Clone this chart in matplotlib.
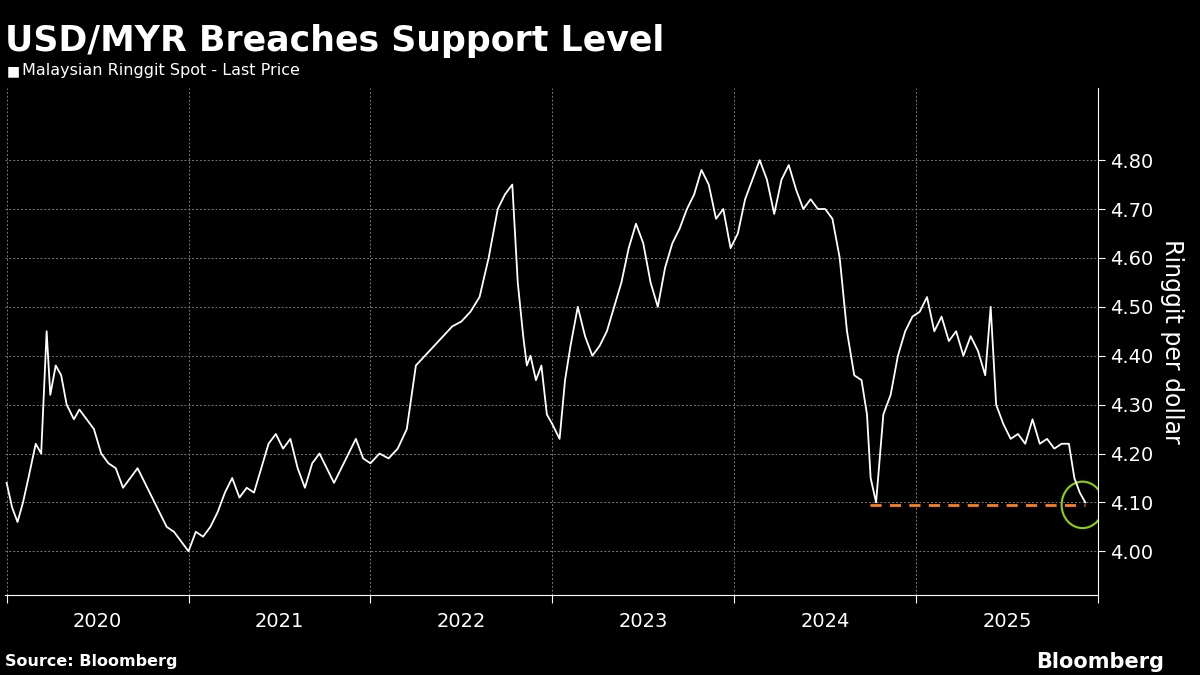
import matplotlib
matplotlib.use("Agg")
import matplotlib.pyplot as plt
import matplotlib.patches as mpatches

# decimal-year positions and USD/MYR values
years = [2020.00,2020.03,2020.06,2020.09,2020.12,2020.16,2020.19,2020.22,2020.24,2020.27,2020.30,2020.33,2020.37,2020.40,2020.44,2020.48,2020.52,2020.56,2020.60,2020.64,2020.68,2020.72,2020.76,2020.80,2020.84,2020.88,2020.92,2020.96,2021.00,
2021.04,2021.08,2021.12,2021.16,2021.20,2021.24,2021.28,2021.32,2021.36,2021.40,2021.44,2021.48,2021.52,2021.56,2021.60,2021.64,2021.68,2021.72,2021.76,2021.80,2021.84,2021.88,2021.92,2021.96,
2022.00,2022.05,2022.10,2022.15,2022.20,2022.25,2022.30,2022.35,2022.40,2022.45,2022.50,2022.55,2022.60,2022.65,2022.70,2022.74,2022.78,2022.81,2022.84,2022.86,2022.88,2022.91,2022.94,2022.97,
2023.00,2023.04,2023.07,2023.10,2023.14,2023.18,2023.22,2023.26,2023.30,2023.34,2023.38,2023.42,2023.46,2023.50,2023.54,2023.58,2023.62,2023.66,2023.70,2023.74,2023.78,2023.82,2023.86,2023.90,2023.94,2023.98,
2024.02,2024.06,2024.10,2024.14,2024.18,2024.22,2024.26,2024.30,2024.34,2024.38,2024.42,2024.46,2024.50,2024.54,2024.58,2024.62,2024.66,2024.70,2024.73,2024.75,2024.78,2024.82,2024.86,2024.90,2024.94,2024.98,
2025.02,2025.06,2025.10,2025.14,2025.18,2025.22,2025.26,2025.30,2025.34,2025.38,2025.41,2025.44,2025.48,2025.52,2025.56,2025.60,2025.64,2025.68,2025.72,2025.76,2025.80,2025.84,2025.87,2025.90,2025.93]
rates = [4.14,4.09,4.06,4.10,4.15,4.22,4.20,4.45,4.32,4.38,4.36,4.30,4.27,4.29,4.27,4.25,4.20,4.18,4.17,4.13,4.15,4.17,4.14,4.11,4.08,4.05,4.04,4.02,4.00,
4.04,4.03,4.05,4.08,4.12,4.15,4.11,4.13,4.12,4.17,4.22,4.24,4.21,4.23,4.17,4.13,4.18,4.20,4.17,4.14,4.17,4.20,4.23,4.19,
4.18,4.20,4.19,4.21,4.25,4.38,4.40,4.42,4.44,4.46,4.47,4.49,4.52,4.60,4.70,4.73,4.75,4.55,4.44,4.38,4.40,4.35,4.38,4.28,
4.26,4.23,4.35,4.42,4.50,4.44,4.40,4.42,4.45,4.50,4.55,4.62,4.67,4.63,4.55,4.50,4.58,4.63,4.66,4.70,4.73,4.78,4.75,4.68,4.70,4.62,
4.65,4.72,4.76,4.80,4.76,4.69,4.76,4.79,4.74,4.70,4.72,4.70,4.70,4.68,4.60,4.45,4.36,4.35,4.28,4.15,4.10,4.28,4.32,4.40,4.45,4.48,
4.49,4.52,4.45,4.48,4.43,4.45,4.40,4.44,4.41,4.36,4.50,4.30,4.26,4.23,4.24,4.22,4.27,4.22,4.23,4.21,4.22,4.22,4.15,4.12,4.10]
support = 4.095
support_start = 2024.745

fig = plt.figure(figsize=(12, 6.75), dpi=100, facecolor="black")
ax = fig.add_axes([0.004, 0.118, 0.911, 0.752], facecolor="black")
ax.plot(years, rates, color="white", lw=1.3)
ax.plot([support_start, years[-1]], [support, support], color="#ff7f1f", lw=2, ls=(0, (4, 3)))
ax.set_xlim(2019.99, 2026.0)
ax.set_ylim(3.91, 4.948)
yt = [4.0, 4.1, 4.2, 4.3, 4.4, 4.5, 4.6, 4.7, 4.8]
ax.set_yticks(yt)
ax.set_yticklabels([f"{v:.2f}" for v in yt], color="white", fontsize=14)
ax.yaxis.tick_right()
ax.set_xticks([2020, 2021, 2022, 2023, 2024, 2025, 2026])
ax.set_xticklabels([])
ax.set_xticks([2020.5 + i for i in range(6)], minor=True)
ax.set_xticklabels([str(2020 + i) for i in range(6)], minor=True, color="white", fontsize=14)
ax.tick_params(axis="x", which="minor", length=0, pad=12)
ax.tick_params(axis="x", which="major", length=6, color="white")
ax.tick_params(axis="y", length=5, color="white", pad=4)
ax.grid(True, which="major", color="#777777", ls=(0, (2, 2)), lw=0.7)
for s in ["top", "left"]:
    ax.spines[s].set_visible(False)
ax.spines["bottom"].set_color("white")
ax.spines["right"].set_color("white")
ax.yaxis.set_label_position("right")
ax.set_ylabel("Ringgit per dollar", color="white", fontsize=17, rotation=270, labelpad=22)
circ = mpatches.Ellipse((2025.915, 4.095), 0.23, 0.095, fill=False, ec="#8fd400", lw=1.5)
ax.add_patch(circ)

fig.text(0.004, 0.94, "USD/MYR Breaches Support Level", color="white", fontsize=25, fontweight="bold", va="center")
fig.text(0.006, 0.895, "■", color="white", fontsize=10, va="center")
fig.text(0.018, 0.895, "Malaysian Ringgit Spot - Last Price", color="white", fontsize=11.5, va="center")
fig.text(0.004, 0.02, "Source: Bloomberg", color="white", fontsize=11.5, fontweight="bold", va="center")
fig.text(0.97, 0.02, "Bloomberg", color="white", fontsize=15, fontweight="bold", va="center", ha="right")
fig.savefig("out.png", dpi=100, facecolor="black")
